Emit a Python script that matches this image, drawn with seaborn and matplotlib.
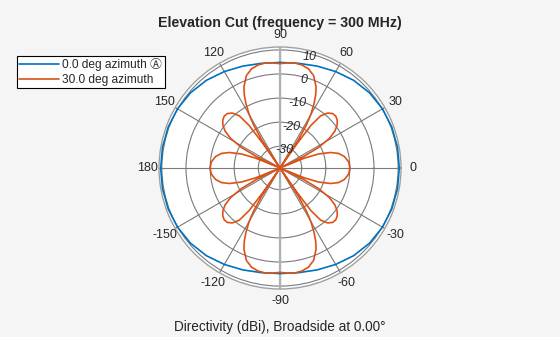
import numpy as np
import pandas as pd
import matplotlib
matplotlib.use("Agg")
import matplotlib.pyplot as plt
import seaborn as sns
from matplotlib.lines import Line2D

sns.set_style("white")
plt.rcParams['font.family'] = ['Liberation Sans', 'DejaVu Sans', 'Noto Sans CJK JP']

# ---- data ----
series_names = ["0.0 deg azimuth \u24b6", "30.0 deg azimuth"]

az0_elev = [-180, -170, -160, -150, -140, -130, -120, -110, -100, -90,
            -80, -70, -60, -50, -40, -30, -20, -10, 0,
            10, 20, 30, 40, 50, 60, 70, 80, 90,
            100, 110, 120, 130, 140, 150, 160, 170, 180]
az0_dbi = [10.5, 10.5, 10.4, 10.1, 9.5, 8.5, 7.2, 6.0, 5.1, 4.8,
           5.1, 6.0, 7.2, 8.5, 9.5, 10.1, 10.4, 10.5, 10.5,
           10.5, 10.4, 10.1, 9.5, 8.5, 7.2, 6.0, 5.1, 4.8,
           5.1, 6.0, 7.2, 8.5, 9.5, 10.1, 10.4, 10.5, 10.5]

az30_elev = [-180, -175, -170, -166, -163, -160, -158, -156, -154, -152, -149,
             -146, -143, -140, -137, -134, -131, -128, -126, -125, -124, -123,
             -121.5, -120, -118, -116, -114, -110, -106, -102, -98, -94, -90,
             -86, -82, -78, -74, -70, -66, -64, -62, -60, -58.5, -57, -56,
             -55, -54, -52, -49, -46, -43, -40, -37, -34, -31, -28, -26, -24,
             -22, -20, -17, -14, -10, -5, 0,
             5, 10, 14, 17, 20, 22, 24, 26, 28, 31, 34, 37, 40, 43, 46, 49,
             52, 54, 55, 56, 57, 58.5, 60, 62, 64, 66, 70, 74, 78, 82, 86, 90,
             94, 98, 102, 106, 110, 114, 116, 118, 120, 121.5, 123, 124, 125,
             126, 128, 131, 134, 137, 140, 143, 146, 149, 152, 154, 156, 158,
             160, 163, 166, 170, 175, 180]
az30_dbi = [-10.0, -10.4, -11.8, -14.0, -17.0, -22.0, -28.0, -50.0, -28.0, -21.0, -15.0,
            -11.5, -9.3, -8.0, -7.4, -7.6, -8.8, -11.5, -17.0, -26.0, -50.0, -25.0,
            -18.0, -13.5, -9.0, -5.2, -2.2, 1.8, 3.8, 4.7, 5.0, 4.7, 4.3,
            4.7, 5.0, 4.7, 3.8, 1.8, -2.2, -5.2, -9.0, -13.5, -18.0, -25.0, -50.0,
            -26.0, -17.0, -11.5, -8.8, -7.6, -7.4, -8.0, -9.3, -11.5, -15.0, -21.0, -28.0, -50.0,
            -28.0, -22.0, -17.0, -14.0, -11.8, -10.4, -10.0,
            -10.4, -11.8, -14.0, -17.0, -22.0, -28.0, -50.0, -28.0, -21.0, -15.0, -11.5, -9.3, -8.0, -7.4, -7.6, -8.8,
            -11.5, -17.0, -26.0, -50.0, -25.0, -18.0, -13.5, -9.0, -5.2, -2.2, 1.8, 3.8, 4.7, 5.0, 4.7, 4.3,
            4.7, 5.0, 4.7, 3.8, 1.8, -2.2, -5.2, -9.0, -13.5, -18.0, -25.0, -50.0, -26.0,
            -17.0, -11.5, -8.8, -7.6, -7.4, -8.0, -9.3, -11.5, -15.0, -21.0, -28.0, -50.0, -28.0,
            -22.0, -17.0, -14.0, -11.8, -10.4, -10.0]

ring_values = [-30, -20, -10, 0, 10]
angle_ticks = [0, 30, 60, 90, 120, 150, 180, 210, 240, 270, 300, 330]
angle_labels = ["0", "30", "60", "90", "120", "150", "180",
                "-150", "-120", "-90", "-60", "-30"]

RMIN, RMAX = -39.0, 11.2
colors = ["#0072BD", "#D95319"]
text_color = "#262626"
FS = 9.0

df = pd.concat([
    pd.DataFrame({"theta": np.deg2rad(az0_elev), "r": az0_dbi, "series": series_names[0]}),
    pd.DataFrame({"theta": np.deg2rad(az30_elev), "r": az30_dbi, "series": series_names[1]}),
], ignore_index=True)
df["r"] = df["r"].clip(lower=RMIN)

fig = plt.figure(figsize=(5.6, 3.37), dpi=100, facecolor="#f5f5f5")
ax = fig.add_axes([159 / 560, 48 / 337, 242 / 560, 242 / 337], projection="polar")
ax.set_facecolor("white")

for name, col in zip(series_names, colors):
    sub = df[df["series"] == name]
    sns.lineplot(data=sub, x="theta", y="r", sort=False, estimator=None,
                 color=col, lw=1.2, ax=ax, legend=False, zorder=3)

ax.set_rlim(RMIN, RMAX)
ax.set_rgrids(ring_values, labels=[""] * len(ring_values))
ax.set_thetagrids(angle_ticks, labels=[""] * len(angle_ticks))
ax.grid(True, color="#7a7a7a", lw=0.8)
ax.axvline(np.pi / 2, color="#b0b0b0", lw=1.6, zorder=1)
ax.axvline(3 * np.pi / 2, color="#b0b0b0", lw=1.6, zorder=1)
ax.spines["polar"].set_color("#a0a0a0")
ax.spines["polar"].set_linewidth(1.0)
ax.set_xlabel("")
ax.set_ylabel("")

# angle labels around the circle (axes-fraction placement)
r_lab = 0.5 * 133 / 121
for a, lab in zip(angle_ticks, angle_labels):
    t = np.deg2rad(a)
    ax.text(0.5 + r_lab * np.cos(t), 0.5 + r_lab * np.sin(t), lab,
            transform=ax.transAxes, ha="center", va="center",
            fontsize=FS, color=text_color, clip_on=False)

# magnitude labels along the 75 degree spoke
for v in ring_values:
    ax.text(np.deg2rad(75), v - 1.2, str(v), ha="center", va="center",
            fontsize=FS, color=text_color, fontstyle="italic", zorder=4)

fig.text(0.5, 1 - 23 / 337, "Elevation Cut (frequency = 300 MHz)", ha="center", va="center",
         fontsize=10.2, fontweight="bold", color=text_color)
fig.text(0.5, 10 / 337, "Directivity (dBi), Broadside at 0.00\u00b0", ha="center", va="center",
         fontsize=9.8, color=text_color)

handles = [Line2D([0], [0], color=c, lw=1.2) for c in colors]
leg = fig.legend(handles, series_names, loc="upper left",
                 bbox_to_anchor=(17 / 560, 1 - 56 / 337), fontsize=8.6,
                 frameon=True, fancybox=False, edgecolor="black", framealpha=1,
                 handlelength=3.3, handletextpad=0.3, borderpad=0.2,
                 labelspacing=0.2, borderaxespad=0)
leg.get_frame().set_linewidth(0.8)

fig.savefig("out.png", dpi=100, facecolor=fig.get_facecolor())
